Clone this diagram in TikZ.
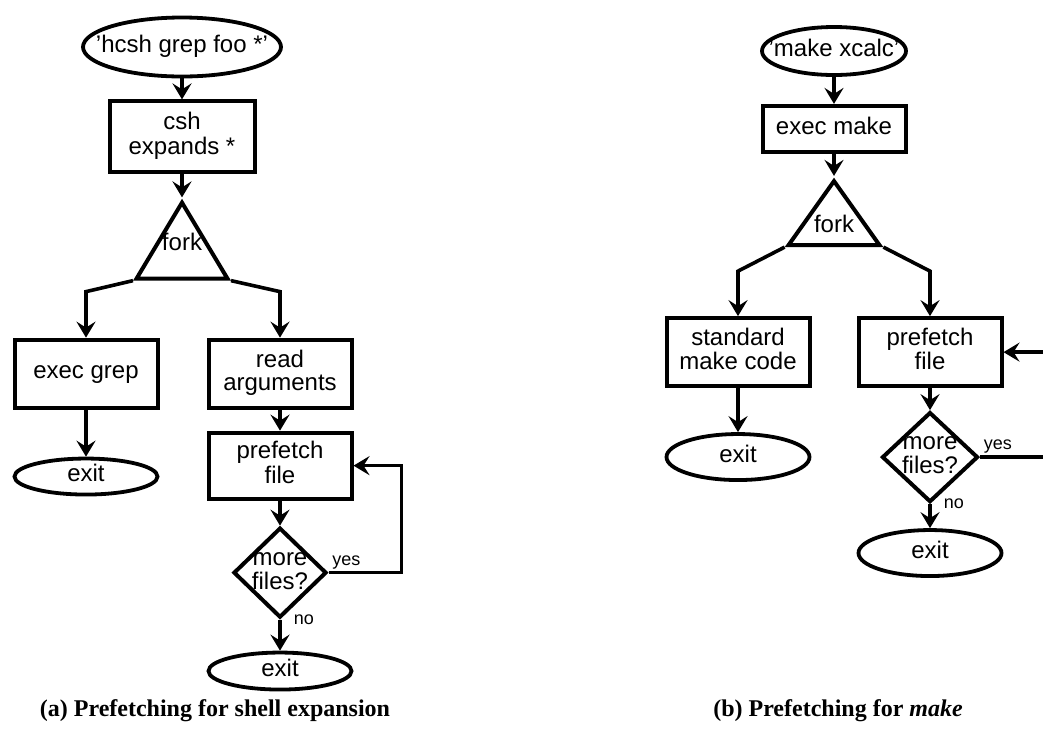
\documentclass[tikz,border=0pt,12pt]{standalone}
\usepackage{fontspec}
\setmainfont{Liberation Serif}
\setsansfont{Liberation Sans}
\usetikzlibrary{arrows.meta,shapes.geometric}
\usetikzlibrary{positioning}
\renewcommand{\arraystretch}{0.8}
\newcommand{\fittext}[1]{\makebox[0pt]{\begin{tabular}{@{}c@{}}#1\end{tabular}}}

\tikzset{
  block/.style={draw, rectangle, line width=2pt, minimum width=71.5pt,
    minimum height=34pt, inner sep=0pt, font=\sffamily},
  terminal/.style={draw, ellipse, line width=1.9pt, minimum width=71.5pt,
    inner sep=0pt, font=\sffamily},
  decision/.style={draw, diamond, line width=2pt, inner sep=0pt,
    font=\sffamily},
  forknode/.style={draw, isosceles triangle, isosceles triangle stretches,
    shape border rotate=90, line width=2pt, inner sep=0pt},
  forktext/.style={font=\sffamily, inner sep=0pt},
  flow/.style={-{Stealth[length=8pt,width=9.5pt,inset=3pt]}, line width=1.8pt},
  answer/.style={font=\sffamily\fontsize{9}{10}\selectfont, inner sep=1pt},
  caption/.style={font=\bfseries}
}

\begin{document}
\begin{tikzpicture}
    \useasboundingbox (0,0) rectangle (521.5pt,-367.5pt);

    % (a) SHELL EXPANSION
    \node[terminal, minimum width=99pt, minimum height=29.5pt]
      (HCSH_GREP_FOO) at (91pt,-23.5pt)
    {
      \fittext{'hcsh grep foo *'}
    };

    \node[block, minimum width=72.5pt, minimum height=35.5pt,
      below=10.5pt of HCSH_GREP_FOO] (CSH_EXPANDS)
    {
      \begin{tabular}{c}
        csh\\ expands *
      \end{tabular}
    };

    \node[forknode, minimum width=45.5pt, minimum height=38pt,
      below=11.5pt of CSH_EXPANDS] (FORK_A)
    {};
    \node[forktext, above=15pt of FORK_A.south] (FORK_A_TEXT) {fork};

    \node[block,
      below=28.5pt of FORK_A,
      xshift=-48pt] (EXEC_GREP)
    {
      \begin{tabular}{c}
        exec grep
      \end{tabular}
    };

    \node[block,
      below=28.5pt of FORK_A,
      xshift=49pt] (READ_ARGUMENTS)
    {
      \begin{tabular}{c}
        read\\ arguments
      \end{tabular}
    };

    \node[terminal, minimum height=18pt,
      below=23.5pt of EXEC_GREP] (EXIT_GREP)
    {
      \fittext{exit}
    };

    \node[block, minimum height=33pt,
      below=10.5pt of READ_ARGUMENTS] (PREFETCH_FILE_A)
    {
      \begin{tabular}{c}
        prefetch\\ file
      \end{tabular}
    };

    \node[decision, minimum width=46.5pt, minimum height=45pt,
      below=12.5pt of PREFETCH_FILE_A] (MORE_FILES_A)
    {
      \fittext{more\\ files?}
    };

    \node[terminal, minimum height=18.5pt,
      below=15.5pt of MORE_FILES_A] (EXIT_A)
    {
      \fittext{exit}
    };

    % (b) MAKE
    \node[terminal, minimum width=72pt, minimum height=24pt]
      (MAKE_XCALC) at (417pt,-25.5pt)
    {
      \fittext{'make xcalc'}
    };

    \node[block, minimum height=23pt,
      below=13.5pt of MAKE_XCALC] (EXEC_MAKE)
    {
      \begin{tabular}{c}
        exec make
      \end{tabular}
    };

    \node[forknode, minimum width=45.5pt, minimum height=32pt,
      below=11pt of EXEC_MAKE] (FORK_B)
    {};
    \node[forktext, above=7pt of FORK_B.south] (FORK_B_TEXT) {fork};

    \node[block,
      below=34.5pt of FORK_B,
      xshift=-48pt] (STANDARD_MAKE_CODE)
    {
      \begin{tabular}{c}
        standard\\ make code
      \end{tabular}
    };

    \node[block,
      below=34.5pt of FORK_B,
      xshift=48pt] (PREFETCH_FILE_B)
    {
      \begin{tabular}{c}
        prefetch\\ file
      \end{tabular}
    };

    \node[terminal, minimum height=23pt,
      below=22pt of STANDARD_MAKE_CODE] (EXIT_MAKE)
    {
      \fittext{exit}
    };

    \node[decision, minimum width=48pt, minimum height=45pt,
      below=11pt of PREFETCH_FILE_B] (MORE_FILES_B)
    {
      \fittext{more\\ files?}
    };

    \node[terminal, minimum height=23pt,
      below=12pt of MORE_FILES_B] (EXIT_B)
    {
      \fittext{exit}
    };

    % CAPTIONS
    \node[caption] (CAPTION_A) at (107.5pt,-355.5pt)
    {(a) Prefetching for shell expansion};
    \node[caption] (CAPTION_B) at (419pt,-355.5pt)
    {(b) Prefetching for \textit{make}};

    % LINES
    \path[flow]
    (HCSH_GREP_FOO) edge (CSH_EXPANDS)
    (CSH_EXPANDS) edge (FORK_A)
    (EXEC_GREP) edge (EXIT_GREP)
    (READ_ARGUMENTS) edge (PREFETCH_FILE_A)
    (PREFETCH_FILE_A) edge (MORE_FILES_A)
    (MORE_FILES_A) edge node[answer, right=5pt, pos=0] {no} (EXIT_A)
    (MAKE_XCALC) edge (EXEC_MAKE)
    (EXEC_MAKE) edge (FORK_B)
    (STANDARD_MAKE_CODE) edge (EXIT_MAKE)
    (PREFETCH_FILE_B) edge (MORE_FILES_B)
    (MORE_FILES_B) edge node[answer, right=5pt, pos=0] {no} (EXIT_B)
    ;

    \draw[flow] (FORK_A.left corner) -- ([yshift=23pt]EXEC_GREP.north) -- (EXEC_GREP.north);
    \draw[flow] (FORK_A.right corner) -- ([yshift=23pt]READ_ARGUMENTS.north) -- (READ_ARGUMENTS.north);
    \draw[flow] (FORK_B.left corner) -- ([yshift=22.5pt]STANDARD_MAKE_CODE.north) -- (STANDARD_MAKE_CODE.north);
    \draw[flow] (FORK_B.right corner) -- ([yshift=22.5pt]PREFETCH_FILE_B.north) -- (PREFETCH_FILE_B.north);

    \draw[flow] (MORE_FILES_A.east) -- node[answer, above right, pos=0] {yes} ++(36.5pt,0) |- (PREFETCH_FILE_A.east);
    \draw[flow] (MORE_FILES_B.east) -- node[answer, above right, pos=0] {yes} ++(45pt,0) |- (PREFETCH_FILE_B.east);
  \end{tikzpicture}
\end{document}
